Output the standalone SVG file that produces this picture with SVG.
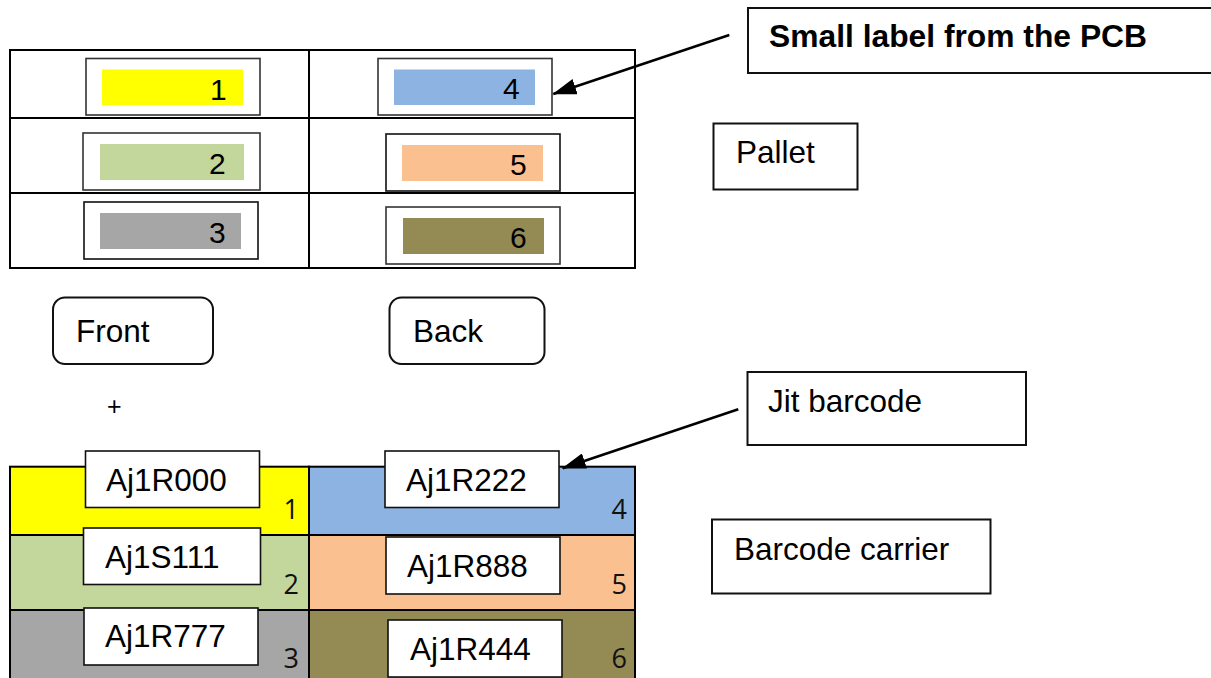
<svg xmlns="http://www.w3.org/2000/svg" width="1211" height="678" viewBox="0 0 1211 678">
<style>
text{font-family:"Liberation Sans",Arial,sans-serif;fill:#000}
.t{font-size:31.5px}
.d{font-size:30px}
.n{font-family:"Open Sans","Liberation Sans",sans-serif;font-size:27px;fill:#111}
.cell{fill:#fff;stroke:#000;stroke-width:2}
.lab{fill:#fff;stroke:#333;stroke-width:1.6}
.box{fill:#fff;stroke:#111;stroke-width:2}
.conn{stroke:#000;stroke-width:2.5;fill:none}
</style>
<defs>
<marker id="ah" markerUnits="userSpaceOnUse" markerWidth="24" markerHeight="16" viewBox="0 0 24 16" refX="23" refY="8" orient="auto">
<path d="M0,0 L24,8 L0,16 Z" fill="#000"/>
</marker>
</defs>
<rect width="1211" height="678" fill="#fff"/>

<g id="pallet-table">
<rect class="cell" x="10" y="50" width="299" height="68"/>
<rect class="cell" x="309" y="50" width="326" height="68"/>
<rect class="cell" x="10" y="118" width="299" height="75"/>
<rect class="cell" x="309" y="118" width="326" height="75"/>
<rect class="cell" x="10" y="193" width="299" height="75"/>
<rect class="cell" x="309" y="193" width="326" height="75"/>
</g>

<g id="p1"><rect class="lab" x="86" y="58.5" width="174" height="56.5"/><rect x="102" y="69.5" width="141" height="35.5" fill="#FFFF00"/><text class="d" x="210" y="99.5">1</text></g>
<g id="p2"><rect class="lab" x="83" y="133" width="177" height="57"/><rect x="100" y="144" width="144" height="36" fill="#C3D69B"/><text class="d" x="209" y="174">2</text></g>
<g id="p3"><rect class="lab" x="84" y="202" width="174" height="57" style="stroke:#111"/><rect x="100" y="213" width="141" height="36" fill="#A6A6A6"/><text class="d" x="209" y="243">3</text></g>
<g id="p4"><rect class="lab" x="378" y="58.5" width="174" height="56.5"/><rect x="394" y="69.5" width="141" height="35.5" fill="#8DB3E2"/><text class="d" x="503" y="98.5">4</text></g>
<g id="p5"><rect class="lab" x="386" y="134" width="174" height="57" style="stroke:#111"/><rect x="402" y="145" width="141" height="36" fill="#FAC090"/><text class="d" x="510" y="174.5">5</text></g>
<g id="p6"><rect class="lab" x="386" y="207" width="174" height="57"/><rect x="403" y="218" width="141" height="36" fill="#948A54"/><text class="d" x="510" y="247.5">6</text></g>

<g id="small-label"><rect class="box" x="748" y="8" width="470" height="65"/><text class="t" x="769" y="46.7" style="font-weight:bold" textLength="378" lengthAdjust="spacingAndGlyphs">Small label from the PCB</text></g>
<g id="pallet"><rect class="box" x="713.5" y="123.5" width="144" height="66"/><text class="t" x="736" y="163.3">Pallet</text></g>

<g id="front"><rect class="box" x="53" y="297.5" width="160" height="66.5" rx="12"/><text class="t" x="76" y="341.7">Front</text></g>
<g id="back"><rect class="box" x="389.5" y="297.5" width="155" height="66.5" rx="12"/><text class="t" x="413" y="341.7">Back</text></g>
<g id="plus"><text x="107" y="414.5" style="font-size:25px">+</text></g>

<g id="carrier-table">
<rect x="10" y="466.7" width="299" height="68.3" fill="#FFFF00" stroke="#000" stroke-width="2"/>
<rect x="309" y="466.7" width="326" height="68.3" fill="#8DB3E2" stroke="#000" stroke-width="2"/>
<rect x="10" y="535" width="299" height="75" fill="#C3D69B" stroke="#000" stroke-width="2"/>
<rect x="309" y="535" width="326" height="75" fill="#FAC090" stroke="#000" stroke-width="2"/>
<rect x="10" y="610" width="299" height="80" fill="#A6A6A6" stroke="#000" stroke-width="2"/>
<rect x="309" y="610" width="326" height="80" fill="#948A54" stroke="#000" stroke-width="2"/>
<text class="n" x="299" y="519.3" text-anchor="end">1</text>
<text class="n" x="299" y="594" text-anchor="end">2</text>
<text class="n" x="299" y="668" text-anchor="end">3</text>
<text class="n" x="627" y="519.3" text-anchor="end">4</text>
<text class="n" x="627" y="594" text-anchor="end">5</text>
<text class="n" x="627" y="668" text-anchor="end">6</text>
</g>

<g id="b1"><rect class="lab" x="85.5" y="451" width="174" height="56.5" style="stroke:#111"/><text class="t" x="106" y="491">Aj1R000</text></g>
<g id="b2"><rect class="lab" x="83.5" y="528" width="177" height="56.5" style="stroke:#111"/><text class="t" x="105" y="568.3">Aj1S111</text></g>
<g id="b3"><rect class="lab" x="84" y="608" width="174" height="57" style="stroke:#111"/><text class="t" x="105" y="647.3">Aj1R777</text></g>
<g id="b4"><rect class="lab" x="385" y="451" width="174" height="56.5" style="stroke:#111"/><text class="t" x="406" y="491">Aj1R222</text></g>
<g id="b5"><rect class="lab" x="386" y="537" width="174" height="57" style="stroke:#111"/><text class="t" x="407" y="576.7">Aj1R888</text></g>
<g id="b6"><rect class="lab" x="388" y="620" width="174" height="57" style="stroke:#111"/><text class="t" x="410" y="660">Aj1R444</text></g>

<g id="jit"><rect class="box" x="747.5" y="372" width="278.5" height="73"/><text class="t" x="768" y="411.7">Jit barcode</text></g>
<g id="carrier"><rect class="box" x="712" y="519.5" width="278.5" height="74"/><text class="t" x="734" y="560">Barcode carrier</text></g>

<g id="connectors">
<line class="conn" x1="729.3" y1="35" x2="553.3" y2="94" marker-end="url(#ah)"/>
<line class="conn" x1="738.3" y1="409.3" x2="562.7" y2="468.3" marker-end="url(#ah)"/>
</g>
</svg>
